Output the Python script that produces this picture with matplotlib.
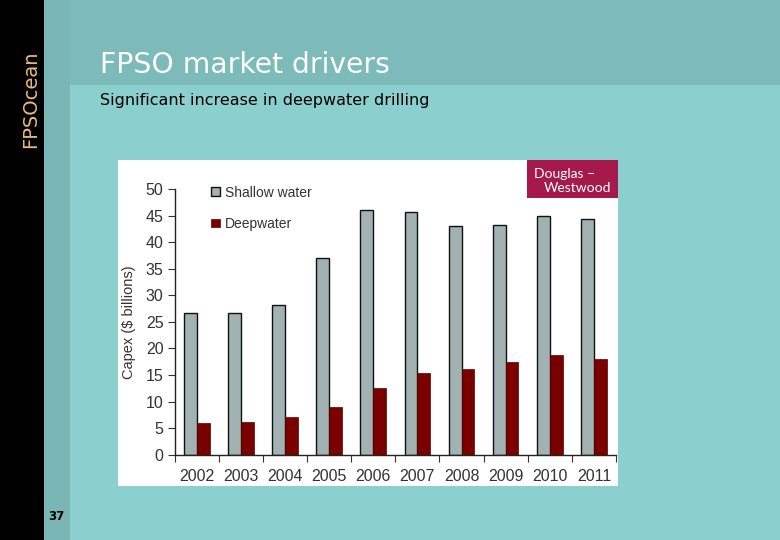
import matplotlib.pyplot as plt
from matplotlib.patches import Rectangle
import numpy as np

years = ['2002', '2003', '2004', '2005', '2006', '2007', '2008', '2009', '2010', '2011']
shallow = [26.7, 26.6, 28.2, 37.0, 46.1, 45.6, 43.0, 43.3, 45.0, 44.3]
deep = [6.0, 6.2, 7.1, 9.0, 12.6, 15.3, 16.2, 17.5, 18.7, 18.1]
yticks = [0, 5, 10, 15, 20, 25, 30, 35, 40, 45, 50]

W, H = 780, 540
fig = plt.figure(figsize=(7.8, 5.4), dpi=100)
fig.patch.set_facecolor('#8BCFCF')


def box(x0, y0, x1, y1, color, z=0):
    # pixel coords, origin top-left
    fig.add_artist(Rectangle((x0 / W, 1 - y1 / H), (x1 - x0) / W, (y1 - y0) / H,
                             transform=fig.transFigure, facecolor=color,
                             edgecolor='none', zorder=z))


box(0, 0, W, 85, '#7DBABA')       # header band
box(44, 0, 70, H, '#7AB6B6')      # side strip
box(0, 0, 44, H, '#000000')       # black strip
box(118, 160, 618, 486, '#FFFFFF')  # chart panel
box(527, 160, 618, 198, '#A51A4B', z=3)  # logo

fig.text(31 / W, 1 - 99 / H, 'FPSOcean', rotation=90, color='#EBB97E',
         fontsize=14, ha='center', va='center')
fig.text(100 / W, 1 - 65 / H, 'FPSO market drivers', color='white',
         fontsize=20.3, ha='left', va='center')
fig.text(100 / W, 1 - 101 / H, 'Significant increase in deepwater drilling',
         color='black', fontsize=11.5, ha='left', va='center')
fig.text(56 / W, 1 - 517 / H, '37', color='black', fontsize=8.5,
         fontweight='bold', ha='center', va='center')
fig.text(534 / W, 1 - 173.5 / H, 'Douglas \u2013', color='white', family='Lato',
         fontsize=10, ha='left', va='center', zorder=4)
fig.text(544 / W, 1 - 187.5 / H, 'Westwood', color='white', family='Lato',
         fontsize=10, ha='left', va='center', zorder=4)

ax = fig.add_axes([174.7 / W, 1 - 454.7 / H, (616 - 174.7) / W, 265.7 / H])
ax.patch.set_alpha(0)
x = np.arange(len(years))
bw = 0.29
ax.bar(x - bw / 2, shallow, bw, color='#A2B2B2', edgecolor='#111111',
       linewidth=1.0, label='Shallow water')
ax.bar(x + bw / 2, deep, bw, color='#7A0000', edgecolor='#5A0000',
       linewidth=0.5, label='Deepwater')

ax.set_xlim(-0.5, len(years) - 0.5)
ax.set_ylim(0, 50)
ax.set_yticks(yticks)
ax.set_xticks(np.arange(len(years) + 1) - 0.5)
ax.set_xticklabels([])
ax.set_xticks(x, minor=True)
ax.set_xticklabels(years, minor=True)
ax.tick_params(axis='x', which='major', length=5, direction='out', color='#333333')
ax.tick_params(axis='x', which='minor', length=0, pad=10)
ax.tick_params(axis='y', length=5, direction='out', color='#333333', pad=3)
for lab in ax.get_xticklabels(minor=True) + ax.get_yticklabels():
    lab.set_family('Liberation Sans')
    lab.set_fontsize(11.5)
    lab.set_color('#333333')
for s in ['top', 'right']:
    ax.spines[s].set_visible(False)
for s in ['left', 'bottom']:
    ax.spines[s].set_color('#222222')
    ax.spines[s].set_linewidth(1.0)

ax.set_ylabel('Capex ($ billions)', family='Liberation Sans', fontsize=10.5,
              color='#333333', labelpad=7)

leg = ax.legend(loc='upper left', bbox_to_anchor=(0.055, 1.06), frameon=False,
                handlelength=0.6, handleheight=0.6, handletextpad=0.4,
                labelspacing=1.25, prop={'family': 'Liberation Sans', 'size': 10})
for t in leg.get_texts():
    t.set_color('#333333')

fig.savefig('out.png', dpi=100)
